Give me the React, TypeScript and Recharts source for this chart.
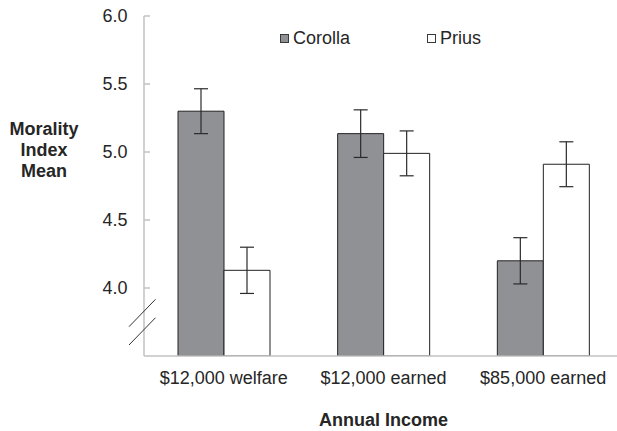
import React from "react";
import { BarChart, Bar, XAxis, YAxis, ErrorBar, Label } from "recharts";

const categories = ["$12,000 welfare", "$12,000 earned", "$85,000 earned"];
const corolla = [5.3, 5.135, 4.2];
const corollaErr = [0.165, 0.175, 0.17];
const prius = [4.13, 4.99, 4.91];
const priusErr = [0.17, 0.165, 0.165];
const yTicks = [3.5, 4.0, 4.5, 5.0, 5.5, 6.0];
const seriesNames = ["Corolla", "Prius"];

const data = categories.map((c, i) => ({
  cat: c,
  corolla: corolla[i],
  corollaErr: corollaErr[i],
  prius: prius[i],
  priusErr: priusErr[i],
}));

const FONT = "'Liberation Sans', Arial, sans-serif";
const TEXT = "#262626";
const AXIS = "#c2c2c2";
const COROLLA_FILL = "#909195";
const STROKE = "#222222";

const YTick = (props: any) => {
  const { x, y, payload } = props;
  if (payload.value === yTicks[0]) {
    return (
      <g>
        <line x1={x - 15} y1={y - 29.3} x2={x + 11.5} y2={y - 56.7} stroke="#333" strokeWidth={1} />
        <line x1={x - 15} y1={y - 11} x2={x + 11.5} y2={y - 38.3} stroke="#333" strokeWidth={1} />
      </g>
    );
  }
  return (
    <g>
      <line x1={x} y1={y} x2={x + 6} y2={y} stroke={AXIS} strokeWidth={1.5} />
      <text
        x={x - 16.5}
        y={y}
        dy="0.355em"
        textAnchor="end"
        fontFamily={FONT}
        fontSize={18}
        fill={TEXT}
      >
        {Number(payload.value).toFixed(1)}
      </text>
    </g>
  );
};

const XTick = (props: any) => {
  const { x, y, payload } = props;
  return (
    <text x={x} y={y} dy={28} textAnchor="middle" fontFamily={FONT} fontSize={18} fill={TEXT}>
      {payload.value}
    </text>
  );
};

const YLabel = (props: any) => {
  const vb = props.viewBox || { x: 0, y: 16 };
  const cx = vb.x + 44;
  const lines = ["Morality", "Index", "Mean"];
  const offs = [119, 140, 160.5];
  return (
    <g>
      {lines.map((t, i) => (
        <text
          key={t}
          x={cx}
          y={vb.y + offs[i]}
          textAnchor="middle"
          fontFamily={FONT}
          fontSize={18}
          fontWeight="bold"
          fill={TEXT}
        >
          {t}
        </text>
      ))}
    </g>
  );
};

const XLabel = (props: any) => {
  const vb = props.viewBox || { x: 144, y: 356, width: 479, height: 75 };
  return (
    <text
      x={vb.x + vb.width / 2}
      y={vb.y + 70}
      textAnchor="middle"
      fontFamily={FONT}
      fontSize={18}
      fontWeight="bold"
      fill={TEXT}
    >
      Annual Income
    </text>
  );
};

const legendItems = [
  { name: seriesNames[0], fill: COROLLA_FILL, left: 280 },
  { name: seriesNames[1], fill: "#ffffff", left: 427 },
];

export default function App() {
  return (
    <div
      style={{
        position: "fixed",
        left: 0,
        top: 0,
        width: 617,
        height: 431,
        overflow: "hidden",
        background: "#fff",
      }}
    >
      <BarChart
        width={623}
        height={431}
        data={data}
        margin={{ top: 16, right: 0, left: 0, bottom: 0 }}
        barGap={0}
        barSize={46}
      >
        <XAxis
          dataKey="cat"
          type="category"
          height={75}
          axisLine={{ stroke: AXIS, strokeWidth: 1.5 }}
          tickLine={false}
          tickSize={0}
          tickMargin={0}
          tick={<XTick />}
          interval={0}
        >
          <Label content={<XLabel />} />
        </XAxis>
        <YAxis
          type="number"
          domain={[3.5, 6]}
          ticks={yTicks}
          width={144}
          allowDataOverflow
          axisLine={{ stroke: AXIS, strokeWidth: 1.5 }}
          tickLine={false}
          tickSize={0}
          tickMargin={0}
          tick={<YTick />}
          interval={0}
        >
          <Label content={<YLabel />} />
        </YAxis>
        <Bar
          dataKey="corolla"
          name={seriesNames[0]}
          fill={COROLLA_FILL}
          stroke={STROKE}
          strokeWidth={1}
          isAnimationActive={false}
        >
          <ErrorBar dataKey="corollaErr" width={7} stroke="#2a2a2a" strokeWidth={1.2} />
        </Bar>
        <Bar
          dataKey="prius"
          name={seriesNames[1]}
          fill="#ffffff"
          stroke={STROKE}
          strokeWidth={1}
          isAnimationActive={false}
        >
          <ErrorBar dataKey="priusErr" width={7} stroke="#2a2a2a" strokeWidth={1.2} />
        </Bar>
      </BarChart>
      {legendItems.map((it) => (
        <div
          key={it.name}
          style={{
            position: "absolute",
            left: it.left,
            top: 28.8,
            height: 18,
            lineHeight: "18px",
            fontFamily: FONT,
            fontSize: 18,
            color: TEXT,
            whiteSpace: "nowrap",
          }}
        >
          <span
            style={{
              display: "inline-block",
              width: 7,
              height: 7,
              border: "1px solid #3a3a3a",
              background: it.fill,
              marginRight: 4,
              verticalAlign: "1px",
            }}
          />
          {it.name}
        </div>
      ))}
    </div>
  );
}
